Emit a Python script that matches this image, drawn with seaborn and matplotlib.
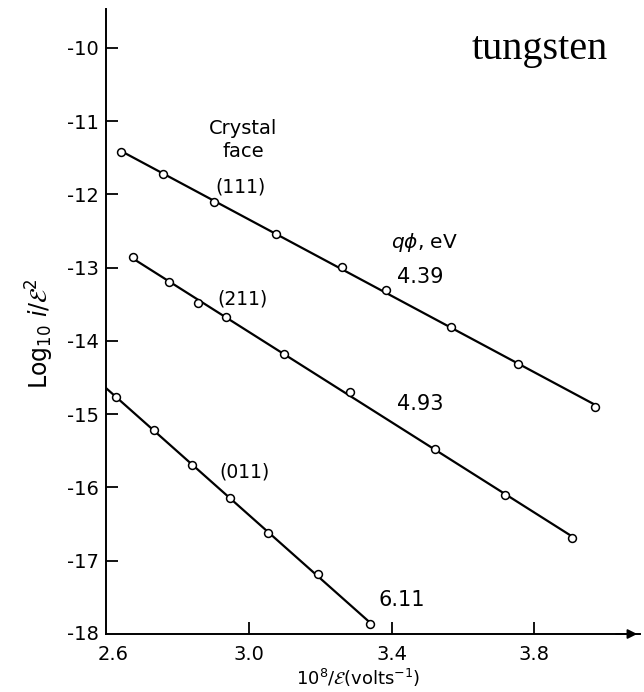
import numpy as np
import pandas as pd
import matplotlib
matplotlib.use("Agg")
import matplotlib.pyplot as plt
import matplotlib.transforms as mtransforms
import seaborn as sns

# ---- data ----
x_111 = [2.641, 2.761, 2.903, 3.075, 3.260, 3.384, 3.566, 3.753, 3.971]
y_111 = [-11.42, -11.72, -12.11, -12.54, -12.99, -13.30, -13.81, -14.32, -14.90]
x_211 = [2.676, 2.777, 2.858, 2.936, 3.099, 3.283, 3.523, 3.718, 3.906]
y_211 = [-12.86, -13.20, -13.48, -13.68, -14.18, -14.70, -15.47, -16.10, -16.69]
x_011 = [2.627, 2.735, 2.842, 2.947, 3.055, 3.193, 3.340]
y_011 = [-14.76, -15.22, -15.70, -16.15, -16.62, -17.18, -17.86]

faces = ["(111)", "(211)", "(011)"]
work_functions = ["4.39", "4.93", "6.11"]
x_ticks = [2.6, 3.0, 3.4, 3.8]
y_ticks = [-10, -11, -12, -13, -14, -15, -16, -17, -18]

series = {"(111)": (x_111, y_111), "(211)": (x_211, y_211), "(011)": (x_011, y_011)}
line_start = {"(111)": None, "(211)": None, "(011)": 2.6}

sns.set_style("ticks")
plt.rcParams["font.family"] = ["DejaVu Sans"]
plt.rcParams["axes.unicode_minus"] = False
plt.rcParams["mathtext.fontset"] = "dejavusans"
for key in ["text.color", "axes.labelcolor", "xtick.color", "ytick.color",
            "xtick.labelcolor", "ytick.labelcolor"]:
    plt.rcParams[key] = "black"

fig = plt.figure(figsize=(6.44, 6.92), dpi=100)
ax = fig.add_axes([0.1646, 0.0838, 0.8292, 0.9032])

for face in faces:
    xs, ys = series[face]
    df = pd.DataFrame({"x": xs, "y": ys})
    k, b = np.polyfit(df["x"], df["y"], 1)
    x0 = line_start[face] if line_start[face] is not None else df["x"].iloc[0]
    x1 = df["x"].iloc[-1]
    fit = pd.DataFrame({"x": [x0, x1], "y": [k * x0 + b, k * x1 + b]})
    sns.lineplot(data=fit, x="x", y="y", color="black", lw=1.6, ax=ax, zorder=2)
    sns.scatterplot(data=df, x="x", y="y", marker="o", s=32, facecolor="white",
                    edgecolor="black", linewidth=1.1, ax=ax, zorder=3)

ax.set_xlim(2.6, 4.096)
ax.set_ylim(-18, -9.47)

sns.despine(ax=ax)
for sp in ["left", "bottom"]:
    ax.spines[sp].set_linewidth(1.4)
    ax.spines[sp].set_color("black")

ax.set_xticks(x_ticks)
ax.set_xticklabels([f"{v:.1f}" for v in x_ticks])
ax.set_yticks(y_ticks)
ax.set_yticklabels([f"{v:d}" for v in y_ticks])
ax.tick_params(axis="both", direction="in", length=8.5, width=1.3, colors="black",
               labelsize=14)
ax.tick_params(axis="y", pad=5)
ax.tick_params(axis="x", pad=8)
# hide the corner tick marks
ax.xaxis.get_major_ticks()[0].tick1line.set_visible(False)
ax.yaxis.get_major_ticks()[-1].tick1line.set_visible(False)
# nudge the corner labels like the reference
lab26 = ax.get_xticklabels()[0]
lab26.set_transform(lab26.get_transform() +
                    mtransforms.ScaledTranslation(7 / 100, 0, fig.dpi_scale_trans))
lab18 = ax.get_yticklabels()[-1]
lab18.set_transform(lab18.get_transform() +
                    mtransforms.ScaledTranslation(0, 2 / 100, fig.dpi_scale_trans))

# arrow at the end of x axis
ax.annotate("", xy=(1.0, 0), xytext=(0.95, 0), xycoords="axes fraction",
            arrowprops=dict(arrowstyle="-|>", color="black", lw=1.3,
                            mutation_scale=14), annotation_clip=False)

ax.set_xlabel(r"10$^{8}$/$\mathcal{E}$(volts$^{-1}$)", fontsize=13)
ax.xaxis.set_label_coords(0.472, -0.071)
ax.xaxis.label.set_verticalalignment("center")
ax.set_ylabel(r"Log$_{10}$ $i/\mathcal{E}^{2}$", fontsize=17)
ax.yaxis.set_label_coords(-0.124, 0.48)
ax.yaxis.label.set_verticalalignment("center")

# annotations
ax.text(2.984, -11.106, "Crystal", ha="center", va="center", fontsize=14)
ax.text(2.984, -11.42, "face", ha="center", va="center", fontsize=14)
ax.text(2.978, -11.90, faces[0], ha="center", va="center", fontsize=13.5)
ax.text(2.981, -13.43, faces[1], ha="center", va="center", fontsize=13.5)
ax.text(2.987, -15.79, faces[2], ha="center", va="center", fontsize=13.5)
ax.text(3.491, -12.65, r"$q\phi$, eV", ha="center", va="center", fontsize=14.5)
ax.text(3.48, -13.13, work_functions[0], ha="center", va="center", fontsize=15)
ax.text(3.48, -14.86, work_functions[1], ha="center", va="center", fontsize=15)
ax.text(3.429, -17.54, work_functions[2], ha="center", va="center", fontsize=15)

fig.text(540 / 644, 1 - 50 / 692, "tungsten", ha="center", va="center",
         fontsize=29, family=["Liberation Serif", "DejaVu Serif"])

fig.savefig("out.png", dpi=100, facecolor="white")
